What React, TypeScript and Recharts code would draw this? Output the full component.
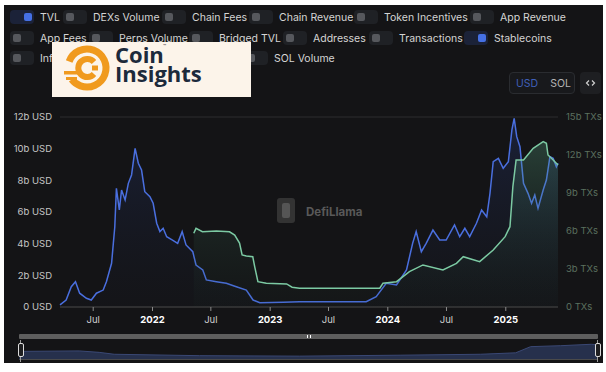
import React from 'react';
import { ComposedChart, AreaChart, Area, XAxis, YAxis, ReferenceLine } from 'recharts';

const tvlDates = [
  '2021-03-20','2021-04-08','2021-04-24','2021-05-07','2021-05-20','2021-06-10','2021-06-25','2021-07-11',
  '2021-08-01','2021-08-11','2021-08-27','2021-09-06','2021-09-11','2021-09-20','2021-09-27','2021-10-08',
  '2021-10-18','2021-10-28','2021-11-08','2021-11-18','2021-11-28','2021-12-08','2021-12-24','2022-01-03',
  '2022-01-14','2022-01-24','2022-02-03','2022-02-14','2022-03-04','2022-03-20','2022-04-03','2022-04-15',
  '2022-05-06','2022-05-16','2022-06-06','2022-06-17','2022-07-18','2022-08-18','2022-09-18','2022-10-19',
  '2022-11-09','2022-11-30','2023-02-10','2023-04-02','2023-10-26','2023-11-26','2023-12-27','2024-01-28',
  '2024-02-28','2024-03-18','2024-03-29','2024-04-14','2024-04-29','2024-05-20','2024-06-10','2024-06-30',
  '2024-07-26','2024-08-11','2024-08-27','2024-09-11','2024-10-02','2024-10-18','2024-11-03','2024-11-13',
  '2024-11-23','2024-12-09','2024-12-24','2025-01-09','2025-01-20','2025-01-27','2025-02-04','2025-02-14',
  '2025-02-25','2025-03-11','2025-03-22','2025-04-01','2025-04-11','2025-04-27','2025-05-07','2025-05-18',
  '2025-05-28','2025-06-07','2025-06-12',
];
const tvlValues = [
  0.13,0.44,1.28,1.6,0.87,0.55,0.44,0.87,
  1.07,1.6,2.76,5.07,7.5,6.13,7.39,6.76,
  7.81,8.34,10.02,9.08,8.65,7.28,6.97,6.55,
  5.29,4.76,4.97,4.44,4.23,4.02,4.76,3.92,
  3.49,2.65,2.34,1.71,1.6,1.5,1.28,1.07,
  0.44,0.27,0.3,0.33,0.33,0.65,1.5,1.39,
  2.34,4.02,4.76,3.49,4.02,4.86,4.23,4.23,
  5.18,4.44,4.97,4.44,5.29,6.13,5.7,7.18,
  9.18,9.39,8.76,9.18,11.18,11.92,10.76,10.12,
  7.81,7.18,6.55,7.07,6.23,7.39,8.02,9.49,
  9.39,8.86,9.08,
];

const stableDates = [
  '2022-05-09','2022-05-16','2022-06-05','2022-07-18','2022-08-28','2022-09-13','2022-09-28','2022-10-06',
  '2022-10-19','2022-11-08','2022-11-14','2022-11-24','2022-12-20','2023-02-21','2023-03-10','2023-04-02',
  '2023-12-07','2023-12-17','2024-01-28','2024-03-08','2024-04-19','2024-06-20','2024-08-01','2024-08-22',
  '2024-10-12','2024-11-23','2024-12-30','2025-01-14','2025-01-23','2025-02-02','2025-02-25','2025-03-27',
  '2025-04-27','2025-05-07','2025-05-12','2025-05-28','2025-06-12',
];
const stableValues = [
  5.82,6.21,5.94,6.0,5.94,5.68,5.05,4.11,
  4.03,3.97,3.18,2.0,1.87,1.82,1.56,1.48,
  1.48,1.87,2.0,2.79,3.32,2.92,3.45,3.97,
  3.58,4.5,5.55,6.34,9.5,11.61,11.61,12.53,
  13.05,12.92,12.0,11.61,11.21,
];

const xTickDates = ['2021-07-01','2022-01-01','2022-07-01','2023-01-01','2023-07-01','2024-01-01','2024-07-01','2025-01-01'];
const leftTicks = [0, 2, 4, 6, 8, 10, 12];
const rightTicks = [0, 3, 6, 9, 12, 15];

const brushDates = ['2021-03-23','2021-08-30','2021-10-22','2021-12-01','2022-07-16','2023-04-08','2023-12-31','2024-07-31','2024-11-02','2024-12-12','2025-03-02','2025-05-22','2025-06-09'];
const brushValues = [8, 8.5, 7, 5, 3.5, 3, 4, 5, 6.5, 13, 14, 15.5, 15];

const legendRows = [
  [
    { label: 'TVL', on: true, left: 10 },
    { label: 'DEXs Volume', on: false, left: 63 },
    { label: 'Chain Fees', on: false, left: 162 },
    { label: 'Chain Revenue', on: false, left: 249 },
    { label: 'Token Incentives', on: false, left: 354 },
    { label: 'App Revenue', on: false, left: 470 },
  ],
  [
    { label: 'App Fees', on: false, left: 10 },
    { label: 'Perps Volume', on: false, left: 89 },
    { label: 'Bridged TVL', on: false, left: 189 },
    { label: 'Addresses', on: false, left: 283 },
    { label: 'Transactions', on: false, left: 369 },
    { label: 'Stablecoins', on: true, left: 464 },
  ],
  [
    { label: 'Inflows', on: false, left: 10 },
    { label: 'SOL Volume', on: false, left: 244 },
  ],
];
const rowTops = [10, 31, 51];

const ts = (d: string) => Date.parse(d + 'T00:00:00Z');

const rowMap = new Map<number, any>();
tvlDates.forEach((d, i) => {
  const t = ts(d);
  rowMap.set(t, { ...(rowMap.get(t) || { t }), tvl: tvlValues[i] });
});
stableDates.forEach((d, i) => {
  const t = ts(d);
  rowMap.set(t, { ...(rowMap.get(t) || { t }), stable: stableValues[i] });
});
const chartData = Array.from(rowMap.values()).sort((a, b) => a.t - b.t);
const brushData = brushDates.map((d, i) => ({ t: ts(d), v: brushValues[i] }));

const FONT = 'Inter, "Liberation Sans", sans-serif';

const XTick = (props: any) => {
  const { x, y, payload } = props;
  const dt = new Date(payload.value);
  const isYear = dt.getUTCMonth() === 0;
  return (
    <text x={x} y={y} dy="0.71em" textAnchor="middle" fontSize={9.5} fontFamily={FONT}
      fill={isYear ? '#ffffff' : '#cfcfcf'} fontWeight={isYear ? 700 : 400}>
      {isYear ? String(dt.getUTCFullYear()) : 'Jul'}
    </text>
  );
};

const LeftTick = (props: any) => {
  const { x, y, payload } = props;
  const v = payload.value;
  return (
    <text x={x} y={y} dy="0.35em" textAnchor="end" fontSize={9.5} fontFamily={FONT} fill="#c6c6c6">
      {v === 0 ? '0 USD' : `${v}b USD`}
    </text>
  );
};

const RightTick = (props: any) => {
  const { x, y, payload } = props;
  const v = payload.value;
  return (
    <text x={x} y={y} dy="0.35em" textAnchor="start" fontSize={9.5} fontFamily={FONT} fill="#5b705f">
      {v === 0 ? '0 TXs' : `${v}b TXs`}
    </text>
  );
};

const Toggle = ({ on }: { on: boolean }) => (
  <div style={{ position: 'relative', width: 24, height: 14, borderRadius: 4, background: on ? '#1b2238' : '#1f2125' }}>
    <div style={{ position: 'absolute', top: 3, left: on ? 14 : 3, width: 8, height: 8, borderRadius: 2, background: on ? '#4570e4' : '#56585d' }} />
  </div>
);

export default function App() {
  return (
    <div style={{ position: 'absolute', left: 0, top: 0, width: 606, height: 372, background: '#ffffff', overflow: 'hidden', fontFamily: FONT }}>
      <div style={{ position: 'absolute', left: 4, top: 5, width: 599, height: 358, background: '#141416' }} />

      {legendRows.map((row, ri) => row.map((it) => (
        <div key={it.label} style={{ position: 'absolute', left: it.left, top: rowTops[ri], display: 'flex', alignItems: 'center', height: 14 }}>
          <Toggle on={it.on} />
          <span style={{ marginLeft: 6, fontSize: 10.5, color: '#d4d4d4', whiteSpace: 'nowrap' }}>{it.label}</span>
        </div>
      )))}

      <div style={{ position: 'absolute', left: 509, top: 72, width: 64, height: 20, borderRadius: 4, background: '#18191c', border: '1px solid #2a2c30', display: 'flex', alignItems: 'center', fontSize: 10.5 }}>
        <span style={{ marginLeft: 6, color: '#3f5fb8' }}>USD</span>
        <span style={{ marginLeft: 12, color: '#b4b4b4' }}>SOL</span>
      </div>
      <div style={{ position: 'absolute', left: 580, top: 72, width: 21, height: 22, borderRadius: 4, background: '#1e1f22' }}>
        <svg width={21} height={22}>
          <path d="M 9 8.5 L 6.5 11 L 9 13.5" fill="none" stroke="#d0d0d0" strokeWidth={1.2} />
          <path d="M 12 8.5 L 14.5 11 L 12 13.5" fill="none" stroke="#d0d0d0" strokeWidth={1.2} />
        </svg>
      </div>

      <div style={{ position: 'absolute', left: 277, top: 198, width: 18, height: 25, borderRadius: 3, background: '#333333' }}>
        <div style={{ position: 'absolute', left: 5, top: 5, width: 8, height: 15, borderRadius: 2, background: '#555555' }} />
      </div>
      <div style={{ position: 'absolute', left: 306, top: 205, fontSize: 11.5, fontWeight: 700, color: '#595959' }}>DefiLlama</div>

      <div style={{ position: 'absolute', left: 0, top: 0 }}>
        <ComposedChart width={606} height={372} data={chartData} margin={{ top: 117, right: 3, bottom: 35, left: 5 }}>
          <defs>
            <linearGradient id="gBlue" x1="0" y1="0" x2="0" y2="1">
              <stop offset="0%" stopColor="#2f4ba8" stopOpacity={0.4} />
              <stop offset="100%" stopColor="#161c30" stopOpacity={0.15} />
            </linearGradient>
            <linearGradient id="gGreen" x1="0" y1="0" x2="0" y2="1">
              <stop offset="0%" stopColor="#5fb48f" stopOpacity={0.45} />
              <stop offset="100%" stopColor="#1d3a2e" stopOpacity={0.1} />
            </linearGradient>
          </defs>
          <XAxis dataKey="t" type="number" domain={['dataMin', 'dataMax']} ticks={xTickDates.map(ts)}
            tick={<XTick />} tickSize={4} tickMargin={5} stroke="#4a4a4a" tickLine={{ stroke: '#8a8a8a' }} interval={0} />
          <YAxis yAxisId="left" domain={[0, 12]} ticks={leftTicks} width={55} axisLine={false} tickLine={false}
            tick={<LeftTick />} />
          <YAxis yAxisId="right" orientation="right" domain={[0, 15]} ticks={rightTicks} width={45} axisLine={false} tickLine={false}
            tick={<RightTick />} />
          <ReferenceLine yAxisId="left" y={12} stroke="#2c2c2e" />
          <Area yAxisId="left" dataKey="tvl" type="linear" stroke="#4a6fdf" strokeWidth={1.5} fill="url(#gBlue)"
            connectNulls isAnimationActive={false} dot={false} activeDot={false} />
          <Area yAxisId="right" dataKey="stable" type="linear" stroke="#7ccaa3" strokeWidth={1.5} fill="url(#gGreen)"
            connectNulls isAnimationActive={false} dot={false} activeDot={false} />
        </ComposedChart>
      </div>

      <div style={{ position: 'absolute', left: 19, top: 334, width: 579, height: 5, background: '#5e5e5e', borderRadius: 1 }} />
      <div style={{ position: 'absolute', left: 307, top: 335, width: 1, height: 3, background: '#fff' }} />
      <div style={{ position: 'absolute', left: 310, top: 335, width: 1, height: 3, background: '#fff' }} />
      <div style={{ position: 'absolute', left: 19, top: 340 }}>
        <AreaChart width={579} height={19} data={brushData} margin={{ top: 0, right: 0, bottom: 0, left: 0 }}>
          <XAxis dataKey="t" type="number" domain={['dataMin', 'dataMax']} hide />
          <YAxis domain={[0, 20]} hide />
          <Area dataKey="v" type="linear" stroke="#3a4874" strokeWidth={1} fill="#26304c" fillOpacity={1}
            isAnimationActive={false} dot={false} activeDot={false} />
        </AreaChart>
      </div>
      <div style={{ position: 'absolute', left: 19, top: 359, width: 579, height: 1, background: '#4a4a4a' }} />
      <div style={{ position: 'absolute', left: 20, top: 340, width: 1, height: 22, background: '#9a9a9a' }} />
      <div style={{ position: 'absolute', left: 597, top: 340, width: 1, height: 22, background: '#9a9a9a' }} />
      <div style={{ position: 'absolute', left: 18, top: 343, width: 4, height: 12, border: '1px solid #dcdcdc', borderRadius: 2, background: '#1e1e20' }} />
      <div style={{ position: 'absolute', left: 595, top: 343, width: 4, height: 12, border: '1px solid #dcdcdc', borderRadius: 2, background: '#1e1e20' }} />

      <div style={{ position: 'absolute', left: 52, top: 42, width: 199, height: 55, background: '#fcf4ea' }}>
        <svg width={62} height={55} style={{ position: 'absolute', left: 0, top: 0 }}>
          <circle cx={35} cy={26} r={19} fill="none" stroke="#f09a1e" strokeWidth={7}
            strokeDasharray="100 19.4" transform="rotate(-160 35 26)" />
          <path d="M 42 20 A 9 9 0 1 0 42 32" fill="none" stroke="#f09a1e" strokeWidth={6} />
          <rect x={40} y={23.5} width={6} height={5} fill="#f09a1e" />
          <rect x={12} y={29} width={14} height={3.5} fill="#f09a1e" />
          <rect x={14} y={35} width={11} height={3} fill="#f09a1e" />
        </svg>
        <div style={{ position: 'absolute', left: 63, top: 0, fontFamily: '"Open Sans", sans-serif', fontWeight: 700, fontSize: 22, lineHeight: '22px', color: '#1c2a3b' }}>
          <div style={{ marginTop: 1 }}>Coin</div>
          <div style={{ marginTop: -3 }}>Insights</div>
        </div>
        <div style={{ position: 'absolute', left: 111, top: 1, fontSize: 5, color: '#1c2a3b' }}>™</div>
      </div>
    </div>
  );
}
